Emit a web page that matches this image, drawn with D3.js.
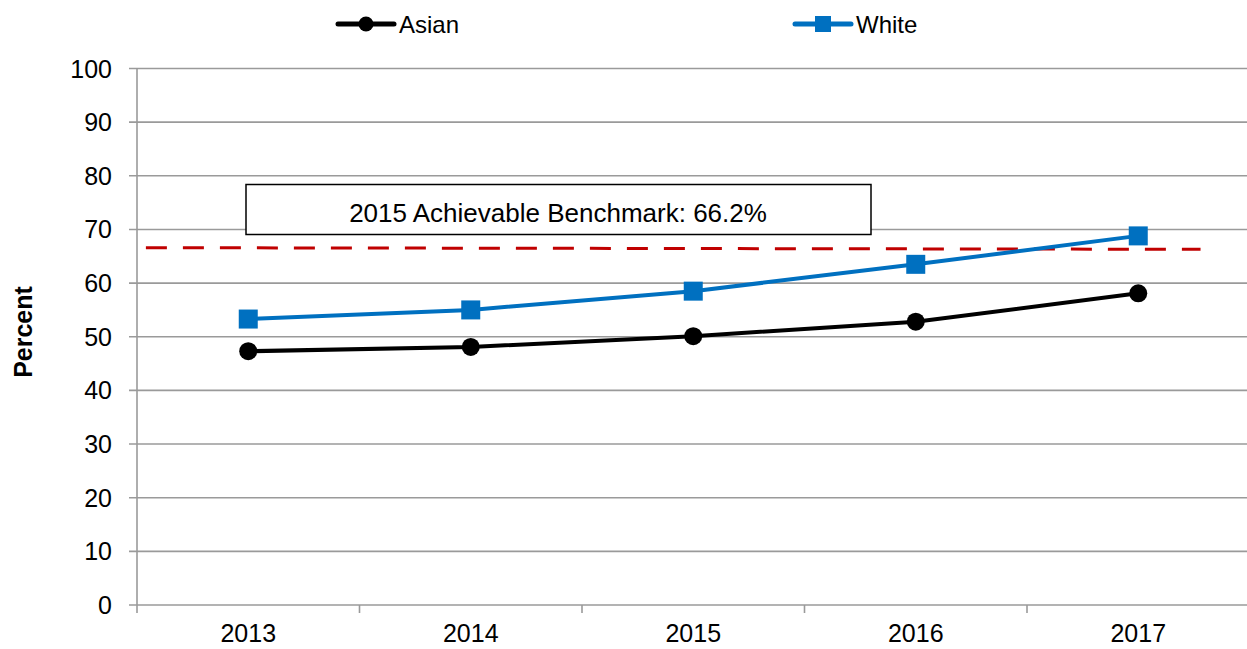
<!DOCTYPE html>
<html>
<head>
<meta charset="utf-8">
<script src="https://cdn.jsdelivr.net/npm/d3@7"></script>
<style>
  body { margin: 0; background: #fff; }
  svg { font-family: "Liberation Sans", Arial, sans-serif; }
</style>
</head>
<body>
<svg id="canvas" width="1247" height="649"></svg>
<script>
// values
const years = ["2013", "2014", "2015", "2016", "2017"];
const asian = [47.3, 48.1, 50.1, 52.8, 58.1];
const white = [53.3, 55.0, 58.5, 63.5, 68.8];
const benchmark = [66.6, 66.3];   // dashed line, left end / right end
const yTicks = [0, 10, 20, 30, 40, 50, 60, 70, 80, 90, 100];
const benchLabel = "2015 Achievable Benchmark: 66.2%";

const svg = d3.select("#canvas");

const plotLeft = 137, plotTop = 68.5, plotBottom = 605;
const band = 222.5;

const x = d3.scaleBand().domain(years).range([plotLeft, plotLeft + band * years.length]);
const y = d3.scaleLinear().domain([0, 100]).range([plotBottom, plotTop]);

// gridlines
svg.append("g")
  .selectAll("line")
  .data(yTicks)
  .join("line")
  .attr("x1", plotLeft - 8)
  .attr("x2", 1247)
  .attr("y1", d => y(d))
  .attr("y2", d => y(d))
  .attr("stroke", "#9a9a9a")
  .attr("stroke-width", 1.6);

// left axis line
svg.append("line")
  .attr("x1", plotLeft).attr("x2", plotLeft)
  .attr("y1", plotTop).attr("y2", plotBottom + 8)
  .attr("stroke", "#9a9a9a").attr("stroke-width", 1.6);

// x tick marks between categories
svg.append("g")
  .selectAll("line")
  .data(years.slice(1))
  .join("line")
  .attr("x1", d => x(d)).attr("x2", d => x(d))
  .attr("y1", plotBottom).attr("y2", plotBottom + 8)
  .attr("stroke", "#9a9a9a").attr("stroke-width", 1.6);

// y tick labels
svg.append("g")
  .selectAll("text")
  .data(yTicks)
  .join("text")
  .attr("x", 112)
  .attr("y", d => y(d))
  .attr("dy", "0.36em")
  .attr("text-anchor", "end")
  .attr("font-size", 25)
  .text(d => d);

// x labels
svg.append("g")
  .selectAll("text")
  .data(years)
  .join("text")
  .attr("x", d => x(d) + x.bandwidth() / 2)
  .attr("y", 642)
  .attr("text-anchor", "middle")
  .attr("font-size", 25)
  .text(d => d);

// y axis title
svg.append("text")
  .attr("transform", "translate(32,332) rotate(-90)")
  .attr("text-anchor", "middle")
  .attr("font-size", 25)
  .attr("font-weight", "bold")
  .text("Percent");

// benchmark dashed line
const pos = d3.scaleLinear().domain([-0.5, years.length - 0.5]).range(x.range());
svg.append("line")
  .attr("x1", pos(-0.46)).attr("x2", pos(4.28))
  .attr("y1", y(benchmark[0])).attr("y2", y(benchmark[1]))
  .attr("stroke", "#c00000")
  .attr("stroke-width", 3)
  .attr("stroke-dasharray", "21,16");

// benchmark label box
svg.append("rect")
  .attr("x", 246).attr("y", 184.5)
  .attr("width", 625).attr("height", 50)
  .attr("fill", "#fff")
  .attr("stroke", "#000")
  .attr("stroke-width", 1.5);
svg.append("text")
  .attr("x", 558).attr("y", 222)
  .attr("text-anchor", "middle")
  .attr("font-size", 26)
  .text(benchLabel);

const line = d3.line()
  .x((d, i) => x(years[i]) + x.bandwidth() / 2)
  .y(d => y(d));

// White series
svg.append("path")
  .attr("d", line(white))
  .attr("fill", "none")
  .attr("stroke", "#0070c0")
  .attr("stroke-width", 4);
svg.append("g")
  .selectAll("rect")
  .data(white)
  .join("rect")
  .attr("x", (d, i) => x(years[i]) + x.bandwidth() / 2 - 9.5)
  .attr("y", d => y(d) - 9.5)
  .attr("width", 19).attr("height", 19)
  .attr("fill", "#0070c0");

// Asian series
svg.append("path")
  .attr("d", line(asian))
  .attr("fill", "none")
  .attr("stroke", "#000")
  .attr("stroke-width", 4);
svg.append("g")
  .selectAll("circle")
  .data(asian)
  .join("circle")
  .attr("cx", (d, i) => x(years[i]) + x.bandwidth() / 2)
  .attr("cy", d => y(d))
  .attr("r", 9)
  .attr("fill", "#000");

// legend
const legend = [
  { name: "Asian", color: "#000", shape: "circle", x: 338 },
  { name: "White", color: "#0070c0", shape: "square", x: 795 }
];
legend.forEach(l => {
  const g = svg.append("g").attr("transform", "translate(" + l.x + ",24)");
  g.append("line").attr("x1", 0).attr("x2", 56)
    .attr("stroke", l.color).attr("stroke-width", 5).attr("stroke-linecap", "round");
  if (l.shape === "circle") {
    g.append("circle").attr("cx", 28).attr("r", 7.5).attr("fill", l.color);
  } else {
    g.append("rect").attr("x", 20).attr("y", -8).attr("width", 16).attr("height", 16).attr("fill", l.color);
  }
  g.append("text")
    .attr("x", 61).attr("y", 8.5)
    .attr("font-size", 24)
    .text(l.name);
});
</script>
</body>
</html>
